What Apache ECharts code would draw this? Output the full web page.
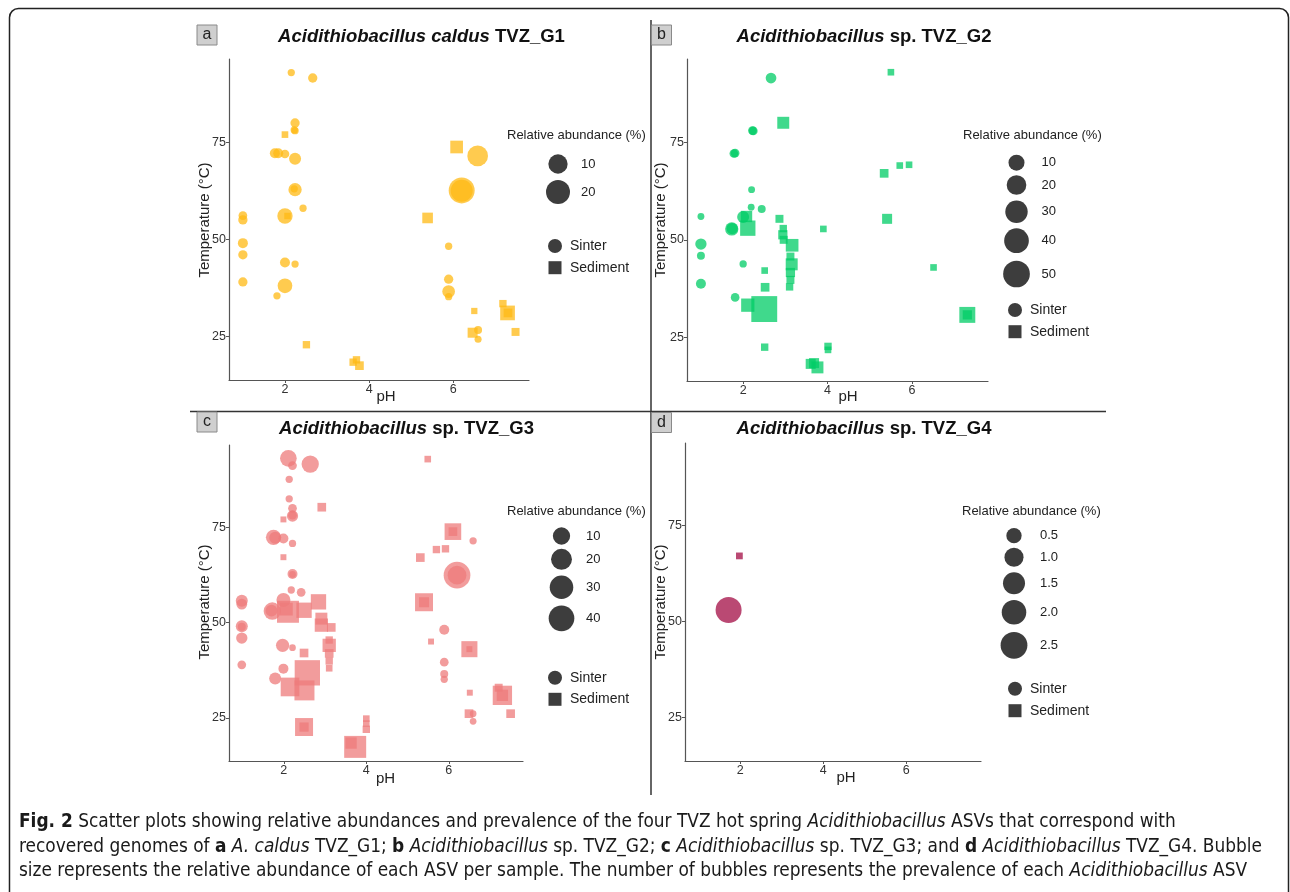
<!DOCTYPE html>
<html><head><meta charset="utf-8">
<script src="https://cdn.jsdelivr.net/npm/echarts@6/dist/echarts.min.js"></script>
<style>html,body{margin:0;padding:0;background:#fff}#c{width:1290px;height:892px}</style>
</head><body><div id="c"></div><script>
// ---------------- DATA ----------------
// [pH, Temperature (°C), relative abundance (%)]
const xTicks = [2, 4, 6];
const yTicks = [25, 50, 75];
const titlesItalic = ['Acidithiobacillus caldus', 'Acidithiobacillus', 'Acidithiobacillus', 'Acidithiobacillus'];
const titlesPlain = ['TVZ_G1', 'sp. TVZ_G2', 'sp. TVZ_G3', 'sp. TVZ_G4'];
const panelLetters = ['a', 'b', 'c', 'd'];

const g1Sinter = [[2.15,93,0.02],[2.66,91.6,0.34],[2.24,80,0.34],[2.22,78.2,0.02],[2.24,78,0.02],[1.76,72.2,0.56],[1.84,72.2,0.56],[2.0,72,0.2],[2.24,70.8,1.53],[2.24,62.8,2.45],[2.22,63,0.02],[2.43,58,0.02],[2.0,56,4.35],[1.0,56.1,0.2],[1.0,55,0.34],[1.0,49,0.56],[1.0,46,0.34],[1.0,39,0.34],[2.0,44,0.56],[2.24,43.6,0.02],[2.0,38,3.72],[1.81,35.4,0.02],[6.58,71.5,12.6],[6.2,62.6,25.4],[6.2,62.5,15.2],[5.89,48.2,0.02],[5.89,39.7,0.34],[5.89,36.5,2.0],[5.89,35.2,0.02],[6.59,26.6,0.085],[6.59,24.2,0.01]];
const g1Sediment = [[2.0,77,0.035],[2.06,56,0.02],[2.51,22.8,0.13],[3.62,18.3,0.13],[3.7,18.9,0.13],[3.77,17.4,0.49],[6.08,73.8,3.33],[5.39,55.5,1.53],[6.5,31.5,0.01],[7.18,33.4,0.13],[7.29,31,5.9],[7.3,31,0.5],[6.46,25.9,1.13],[7.48,26.1,0.27]];

const g2Sinter = [[2.66,91.6,1.75],[2.22,78.1,0.44],[2.24,78,0.44],[1.78,72.2,0.44],[1.81,72.3,0.44],[2.2,62.9,0.01],[2.19,58.4,0.01],[2.44,57.9,0.19],[1.0,56,0.01],[2.0,55.9,3.1],[1.73,52.8,4.9],[1.74,52.9,2.3],[1.0,48.9,2.33],[1.0,45.9,0.19],[2.0,43.8,0.05],[1.0,38.7,1.19],[1.81,35.2,0.44]];
const g2Sediment = [[5.5,93.1,0.08],[2.95,80.1,5.2],[5.34,67.1,1.05],[5.71,69.1,0.08],[5.93,69.3,0.08],[5.41,55.4,2.33],[3.9,52.8,0.08],[6.51,42.9,0.08],[7.31,30.7,15],[7.31,30.7,1.5],[2.08,56,4.15],[2.11,53,13.1],[2.86,55.4,0.58],[2.95,52.9,0.3],[2.94,51.3,1.5],[2.96,50,0.58],[3.16,48.6,6.55],[3.12,45.7,0.58],[3.15,43.7,5.2],[3.12,41.6,1.5],[3.12,39.7,0.58],[3.1,37.9,0.3],[2.51,42.1,0.08],[2.52,37.8,1.05],[2.11,33.2,7.86],[2.5,32.2,64],[2.51,22.4,0.3],[4.01,22.6,0.3],[4.01,21.7,0.08],[3.6,18.1,2.33],[3.68,18.3,2.33],[3.76,17.2,5.2]];

const g3Sinter = [[2.11,93,8.7],[2.21,91.1,0.28],[2.64,91.5,10],[2.13,87.5,0.045],[2.13,82.4,0.045],[2.21,79.9,0.28],[2.21,77.9,1.5],[2.21,78.1,0.28],[1.75,72.3,6.1],[1.79,72.2,2],[1.99,72,0.75],[2.21,70.7,0.045],[2.21,62.7,0.75],[2.21,62.6,0.01],[2.18,58.5,0.045],[2.42,57.9,0.28],[0.98,55.7,2.05],[0.98,54.8,1.11],[1.99,55.9,4.2],[1.72,53,10],[1.7,53.1,2],[0.98,49,2.05],[0.98,48.9,0.13],[0.98,45.9,1.5],[1.97,44,3.35],[2.21,43.4,0.01],[0.98,38.9,0.28],[1.99,37.9,0.75],[1.79,35.3,2.05],[6.2,62.4,45.4],[6.2,62.4,13.4],[6.59,71.4,0.045],[5.89,48.1,0.75],[5.89,39.6,0.28],[5.89,36.5,0.13],[5.89,35.1,0.045],[6.59,26.1,0.01],[6.59,24.1,0.01]];
const g3Sediment = [[5.49,92.8,0.06],[2.92,80.2,0.65],[1.99,77,0.01],[1.99,67.1,0.01],[6.1,73.8,13.6],[6.1,73.8,0.65],[5.31,67,0.65],[5.7,69.1,0.19],[5.92,69.3,0.19],[5.4,55.3,18],[5.4,55.3,1.5],[5.57,45,0.01],[6.5,43,11.9],[6.5,43,0.01],[6.51,31.6,0.01],[7.21,32.9,0.36],[7.3,30.9,23.1],[7.3,30.9,2.8],[6.49,26.1,0.65],[7.5,26.1,0.65],[4.0,24.8,0.06],[4.0,23.5,0.06],[4.0,22,0.19],[3.73,17.4,35.7],[3.63,18.4,2.8],[2.1,52.8,35.7],[2.06,53.5,4.9],[2.49,53.2,10],[2.84,55.4,10],[2.91,51,3.6],[2.91,49.3,5.66],[3.15,48.7,0.65],[3.1,44,5.66],[3.1,45.4,0.19],[3.1,41.9,0.65],[3.1,39.9,0.19],[3.1,38,0.06],[2.49,42,0.65],[2.57,36.8,56.5],[2.15,33.1,20.6],[2.5,32.2,26.1],[2.49,22.6,18],[2.49,22.6,0.93]];

const g4Sinter = [[1.72,53,2.32]];
const g4Sediment = [[1.98,67.1,0.01]];

const sizeLegendValues = [[10,20],[10,20,30,40,50],[10,20,30,40],[0.5,1.0,1.5,2.0,2.5]];
const sizeLegendLabels = [['10','20'],['10','20','30','40','50'],['10','20','30','40'],['0.5','1.0','1.5','2.0','2.5']];
const shapeLabels = ['Sinter', 'Sediment'];
const legendTitle = 'Relative abundance (%)';
const xName = 'pH';
const yName = 'Temperature (°C)';

// ---------------- STYLE / LAYOUT ----------------
const colors = ['#FFBA14', '#00CC66', '#EE7B7B', '#B03060'];
const opac = [0.75, 0.75, 0.75, 0.88];
const sizeParams = [[6.5,4.54,0.45],[6.5,3.23,0.469],[6,4.5,0.4],[6.5,12.6,0.52]];
function sz(p, v) { const s = sizeParams[p]; return s[0] + s[1] * Math.pow(v, s[2]); }
const SQ = 0.886;

const grids = [
  {left: 229, top: 59, width: 300, height: 321},
  {left: 687, top: 59, width: 301, height: 322},
  {left: 229, top: 445, width: 294, height: 316},
  {left: 685, top: 443, width: 296, height: 318}
];
const panelData = [[g1Sinter, g1Sediment],[g2Sinter, g2Sediment],[g3Sinter, g3Sediment],[g4Sinter, g4Sediment]];

const FONT = "'Liberation Sans', Arial, sans-serif";
const xAxes = [], yAxes = [], series = [];
grids.forEach((g, i) => {
  xAxes.push({
    type: 'value', gridIndex: i, min: 0.67, max: 7.8,
    axisLine: {show: true, lineStyle: {color: '#555', width: 1.2}},
    axisTick: {show: true, length: 3, customValues: xTicks, lineStyle: {color: '#555'}},
    axisLabel: {customValues: xTicks, margin: 3, fontSize: 12.5, color: '#333', fontFamily: FONT},
    splitLine: {show: false}
  });
  yAxes.push({
    type: 'value', gridIndex: i, min: 13.7, max: 96.5,
    axisLine: {show: true, lineStyle: {color: '#555', width: 1.2}},
    axisTick: {show: true, length: 3, customValues: yTicks, lineStyle: {color: '#555'}},
    axisLabel: {customValues: yTicks, margin: 3, fontSize: 12.5, color: '#333', fontFamily: FONT},
    splitLine: {show: false}
  });
  ['circle', 'rect'].forEach((shape, k) => {
    series.push({
      type: 'scatter', xAxisIndex: i, yAxisIndex: i, silent: true,
      symbol: shape,
      symbolSize: (val) => sz(i, val[2]) * (k === 1 ? SQ : 1),
      data: panelData[i][k],
      itemStyle: {color: colors[i], opacity: opac[i]}
    });
  });
});

// ---------------- GRAPHICS (frame, titles, legends, caption) ----------------
const gfx = [];
gfx.push({type: 'rect', shape: {x: 9.5, y: 8.5, width: 1279, height: 960, r: 9}, style: {fill: 'none', stroke: '#222', lineWidth: 1.5}, z: 10});
gfx.push({type: 'line', shape: {x1: 651, y1: 20, x2: 651, y2: 795}, style: {stroke: '#333', lineWidth: 1.5}});
gfx.push({type: 'line', shape: {x1: 190, y1: 411.5, x2: 1106, y2: 411.5}, style: {stroke: '#333', lineWidth: 1.5}});

const labelBoxes = [[197, 25], [651.5, 25], [197, 412], [651.5, 412.5]];
const titleCenters = [[421.5, 37], [864, 37], [406.5, 428.5], [864, 428.5]];
const yTitlePos = [[205, 220], [661, 220], [205, 602], [661, 602]];
const xTitlePos = [[386, 397], [848, 397], [385.5, 779], [846, 778]];
const legendTitlePos = [[507, 135], [963, 135], [507, 511], [962, 511]];
const legendKeyX = [558, 1016.5, 561.5, 1014];
const legendKeyY = [[164, 192], [162.7, 185, 211.7, 240.7, 274], [536, 559.3, 587.3, 618.3], [535.7, 557.3, 583.3, 612.3, 645.3]];
const legendLabelX = [581, 1041.5, 586, 1040];
const shapeKeyPos = [[555, 246, 267.7], [1015, 310, 331.7], [555, 677.7, 699.3], [1015, 688.7, 710.7]];

for (let i = 0; i < 4; i++) {
  const [bx, by] = labelBoxes[i];
  gfx.push({type: 'rect', shape: {x: bx, y: by, width: 20, height: 20}, style: {fill: '#cfcfcf', stroke: '#8a8a8a', lineWidth: 1}});
  gfx.push({type: 'text', x: bx + 10, y: by + 10, style: {text: panelLetters[i], fontSize: 16, fontFamily: FONT, fill: '#222', align: 'center', verticalAlign: 'middle'}});
  gfx.push({type: 'text', x: titleCenters[i][0], y: titleCenters[i][1], style: {
    text: '{i|' + titlesItalic[i] + '} {b|' + titlesPlain[i] + '}',
    align: 'center', verticalAlign: 'middle', fontSize: 18.5, fontWeight: 'bold', fontFamily: FONT, fill: '#111',
    rich: {i: {fontStyle: 'italic', fontWeight: 'bold', fontSize: 18.5, fontFamily: FONT, fill: '#111'},
           b: {fontWeight: 'bold', fontSize: 18.5, fontFamily: FONT, fill: '#111'}}
  }});
  gfx.push({type: 'text', x: yTitlePos[i][0], y: yTitlePos[i][1], rotation: Math.PI / 2, style: {text: yName, fontSize: 15, fontFamily: FONT, fill: '#222', align: 'center', verticalAlign: 'middle'}});
  gfx.push({type: 'text', x: xTitlePos[i][0], y: xTitlePos[i][1], style: {text: xName, fontSize: 15, fontFamily: FONT, fill: '#222', align: 'center', verticalAlign: 'middle'}});
  gfx.push({type: 'text', x: legendTitlePos[i][0], y: legendTitlePos[i][1], style: {text: legendTitle, fontSize: 13, fontFamily: FONT, fill: '#222', align: 'left', verticalAlign: 'middle'}});
  sizeLegendValues[i].forEach((v, j) => {
    gfx.push({type: 'circle', shape: {cx: legendKeyX[i], cy: legendKeyY[i][j], r: sz(i, v) / 2}, style: {fill: '#3d3d3d'}});
    gfx.push({type: 'text', x: legendLabelX[i], y: legendKeyY[i][j], style: {text: sizeLegendLabels[i][j], fontSize: 13, fontFamily: FONT, fill: '#222', align: 'left', verticalAlign: 'middle'}});
  });
  const [sx, sy1, sy2] = shapeKeyPos[i];
  gfx.push({type: 'circle', shape: {cx: sx, cy: sy1, r: 7}, style: {fill: '#3d3d3d'}});
  gfx.push({type: 'rect', shape: {x: sx - 6.5, y: sy2 - 6.5, width: 13, height: 13}, style: {fill: '#3d3d3d'}});
  gfx.push({type: 'text', x: sx + 15, y: sy1, style: {text: shapeLabels[0], fontSize: 14, fontFamily: FONT, fill: '#222', align: 'left', verticalAlign: 'middle'}});
  gfx.push({type: 'text', x: sx + 15, y: sy2, style: {text: shapeLabels[1], fontSize: 14, fontFamily: FONT, fill: '#222', align: 'left', verticalAlign: 'middle'}});
}

const CAPF = "'Liberation Sans Narrow', 'DejaVu Sans Condensed', Lato, sans-serif";
const CAPS = 18.9;
const capRich = {
  b: {fontWeight: 'bold', fontSize: CAPS, fontFamily: CAPF, fill: '#1a1a1a'},
  i: {fontStyle: 'italic', fontSize: CAPS, fontFamily: CAPF, fill: '#1a1a1a'}
};
const captionLines = [
  '{b|Fig. 2} Scatter plots showing relative abundances and prevalence of the four TVZ hot spring {i|Acidithiobacillus} ASVs that correspond with',
  'recovered genomes of {b|a} {i|A. caldus} TVZ_G1; {b|b} {i|Acidithiobacillus} sp. TVZ_G2; {b|c} {i|Acidithiobacillus} sp. TVZ_G3; and {b|d} {i|Acidithiobacillus} TVZ_G4. Bubble',
  'size represents the relative abundance of each ASV per sample. The number of bubbles represents the prevalence of each {i|Acidithiobacillus} ASV'
];
const captionY = [822, 847, 871];
captionLines.forEach((t, k) => {
  gfx.push({type: 'text', x: 19, y: captionY[k], style: {text: t, fontSize: CAPS, fontFamily: CAPF, fill: '#1a1a1a', align: 'left', verticalAlign: 'middle', rich: capRich}});
});

const chart = echarts.init(document.getElementById('c'), null, {renderer: 'canvas'});
chart.setOption({
  animation: false,
  backgroundColor: '#fff',
  grid: grids,
  xAxis: xAxes,
  yAxis: yAxes,
  series: series,
  graphic: {elements: gfx}
});
</script></body></html>
